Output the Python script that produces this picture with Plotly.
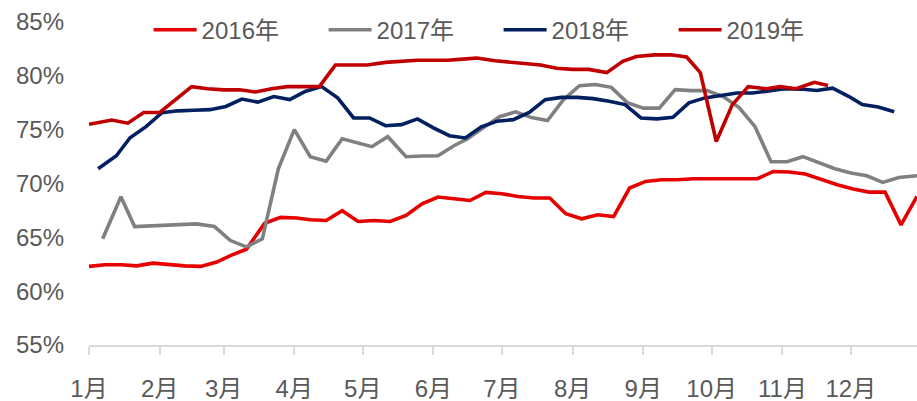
import plotly.graph_objects as go

# ---- data (month-day, value in %) ----
d2016 = ["01-01","01-08","01-15","01-22","01-29","02-05","02-12","02-19","02-26","03-04",
         "03-11","03-19","03-26","04-02","04-08","04-15","04-22","04-29","05-06","05-13",
         "05-20","05-27","06-03","06-10","06-17","06-24","07-01","07-08","07-15","07-22",
         "07-29","08-05","08-12","08-19","08-26","09-02","09-09","09-16","09-23","09-30",
         "10-07","10-14","10-21","10-28","11-04","11-11","11-18","11-25","12-02","12-09",
         "12-16","12-23","12-30"]
v2016 = [62.3,62.45,62.45,62.35,62.6,62.45,62.35,62.3,62.7,63.3,
         63.9,66.3,66.85,66.8,66.63,66.56,67.47,66.47,66.56,66.47,
         67.03,68.12,68.74,68.58,68.42,69.17,69.05,68.8,68.65,68.65,
         67.19,66.72,67.09,66.93,69.58,70.19,70.35,70.35,70.44,70.44,
         70.44,70.44,70.44,71.12,71.07,70.88,70.35,69.88,69.48,69.2,
         69.2,66.16,68.8]

d2017 = ["01-07","01-15","01-21","01-28","02-04","02-11","02-17","02-25","03-04","03-11",
         "03-18","03-25","04-01","04-08","04-15","04-22","04-29","05-05","05-12","05-20",
         "05-27","06-03","06-10","06-16","06-23","06-30","07-07","07-14","07-21","07-28",
         "08-04","08-11","08-18","08-25","09-01","09-08","09-15","09-22","09-29","10-06",
         "10-13","10-20","10-27","11-03","11-10","11-17","11-24","12-01","12-08","12-15",
         "12-22","12-30"]
v2017 = [64.86,68.77,66.0,66.05,66.1,66.15,66.25,66.0,64.7,64.12,
         64.86,71.37,75.0,72.49,72.08,74.16,73.8,73.42,74.35,72.49,
         72.55,72.58,73.51,74.16,75.19,76.2,76.65,76.12,75.84,77.79,
         79.09,79.19,78.93,77.51,77.0,77.0,78.72,78.63,78.63,78.07,
         77.05,75.28,72.02,72.02,72.49,71.93,71.37,70.97,70.72,70.1,
         70.55,70.72]

d2018 = ["01-05","01-13","01-19","01-26","02-02","02-09","02-16","02-23","03-02","03-09",
         "03-16","03-23","03-30","04-06","04-13","04-20","04-27","05-04","05-11","05-18",
         "05-25","06-01","06-08","06-15","06-22","06-29","07-06","07-13","07-20","07-27",
         "08-03","08-10","08-17","08-24","08-31","09-07","09-14","09-21","09-28","10-05",
         "10-12","10-19","10-26","11-02","11-09","11-16","11-23","11-30","12-06","12-13",
         "12-20"]
v2018 = [71.37,72.58,74.25,75.28,76.58,76.75,76.8,76.86,77.16,77.84,
         77.56,78.08,77.79,78.57,79.0,77.95,76.09,76.09,75.37,75.47,
         76.0,75.16,74.44,74.23,75.26,75.79,75.93,76.6,77.79,78.0,
         78.0,77.88,77.63,77.33,76.09,76.0,76.15,77.49,77.95,78.2,
         78.4,78.4,78.64,78.8,78.77,78.64,78.86,78.1,77.33,77.11,
         76.67]

d2019 = ["01-01","01-11","01-18","01-25","02-01","02-08","02-15","02-22","03-01","03-08",
         "03-15","03-22","03-29","04-05","04-12","04-19","04-26","05-03","05-11","05-17",
         "05-25","05-31","06-07","06-14","06-20","06-28","07-04","07-11","07-18","07-25",
         "08-01","08-08","08-16","08-23","08-29","09-06","09-13","09-20","09-26","10-03",
         "10-10","10-17","10-25","10-31","11-07","11-15","11-21"]
v2019 = [75.5,75.9,75.6,76.6,76.6,77.8,79.0,78.8,78.7,78.7,
         78.5,78.8,79.0,79.0,79.0,81.0,81.0,81.0,81.25,81.35,
         81.45,81.45,81.45,81.55,81.65,81.4,81.3,81.2,81.0,80.7,
         80.6,80.6,80.3,81.35,81.8,81.95,81.95,81.75,80.3,73.9,
         77.3,79.0,78.8,79.0,78.8,79.4,79.1]

month_ticks = ["01-01","02-01","03-01","04-01","05-01","06-01","07-01","08-01",
               "09-01","10-01","11-01","12-01"]
month_labels = ["1月","2月","3月","4月","5月","6月","7月","8月","9月","10月","11月","12月"]
y_ticks = [55, 60, 65, 70, 75, 80, 85]

series = [
    ("2016年", d2016, v2016, "#E60000"),
    ("2017年", d2017, v2017, "#808080"),
    ("2018年", d2018, v2018, "#002060"),
    ("2019年", d2019, v2019, "#C00000"),
]

BASE = "2019-"
FONT = "Liberation Sans, Arial, Noto Sans CJK SC, sans-serif"
TXT = "#595959"

fig = go.Figure()
for name, d, v, c in series:
    fig.add_trace(go.Scatter(
        x=[BASE + s for s in d], y=v, name=name, mode="lines",
        line=dict(color=c, width=3.6),
    ))

fig.update_layout(
    width=917, height=401,
    margin=dict(l=89, r=0, t=22, b=56, autoexpand=False),
    paper_bgcolor="white", plot_bgcolor="white",
    font=dict(family=FONT, size=24, color=TXT),
    showlegend=True,
    legend=dict(
        orientation="h", x=0.072, xanchor="left", y=0.975, yanchor="middle",
        font=dict(size=24, color=TXT), bgcolor="rgba(0,0,0,0)",
        entrywidth=117, entrywidthmode="pixels", itemwidth=43,
    ),
    xaxis=dict(
        type="date", range=[BASE + "01-01", BASE + "12-30"], automargin=False,
        tickmode="array", tickvals=[BASE + s for s in month_ticks], ticktext=month_labels,
        showgrid=False, zeroline=False,
        showline=True, linecolor="#D9D9D9", linewidth=1.5,
        ticks="outside", ticklen=8, tickcolor="#D9D9D9", tickwidth=1.5,
        tickfont=dict(size=24, color=TXT), ticklabelstandoff=13,
    ),
    yaxis=dict(
        range=[55, 85], tickmode="array", tickvals=y_ticks, automargin=False,
        ticktext=[f"{t}%" for t in y_ticks],
        showgrid=False, zeroline=False, showline=False,
        tickfont=dict(size=24, color=TXT), ticklabelstandoff=24,
    ),
)

fig.write_html(
    "out.html",
    config={"displayModeBar": False},
    post_script="document.body.style.margin='0';document.body.style.overflow='hidden';",
)
